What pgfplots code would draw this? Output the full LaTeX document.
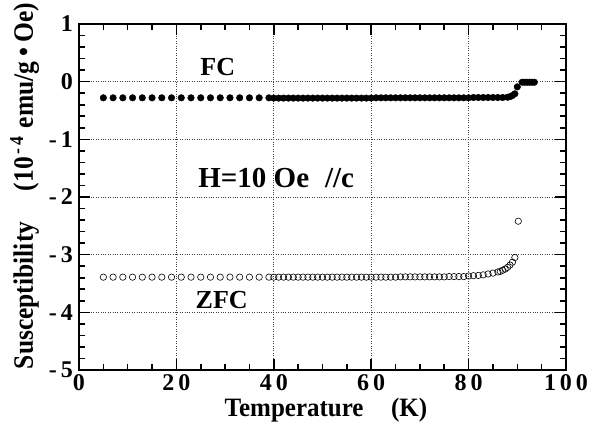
\documentclass[border=0pt]{standalone}
\usepackage{pgfplots}
\pgfplotsset{compat=1.18}
\usepackage{fontspec}
\setmainfont{Liberation Serif}
\begin{document}
\begin{tikzpicture}
\begin{axis}[
 name=ax,
 width=487pt, height=346pt, scale only axis,
 xmin=0,xmax=100,ymin=-5,ymax=1,
 xtick={0,20,...,100}, ytick={-5,-4,...,1},
 minor x tick num=3, minor y tick num=4,
 xticklabels={0,2\,0,4\,0,6\,0,8\,0,1\,0\,0},
 yticklabels={-\,5,-\,4,-\,3,-\,2,-\,1,0,1},
 tick style={line width=1.6pt, black},
 major tick length=11pt, minor tick length=6pt,
 axis line style={line width=2.2pt},
 grid=major, grid style={dotted, line width=0.7pt, black!75},
 ticklabel style={font=\bfseries\fontsize{24}{24}\selectfont},
 xticklabel style={anchor=base, yshift=-21pt, inner sep=0pt},
 yticklabel style={anchor=east, inner sep=0pt, xshift=-6pt},
 xlabel={\scalebox{1}[1.06]{Temperature\hspace{1.1em}(K)}},
 ylabel={\scalebox{1}[1.1]{Susceptibility\hspace{1.2em}(10\hspace{0.12em}\textsuperscript{-\,4}\hspace{0.3em}emu/g\hspace{0.2em}•\hspace{0.2em}Oe)}},
 xlabel style={font=\bfseries\fontsize{25}{25}\selectfont, inner sep=0pt, at={(axis description cs:0.507,-0.133)}, anchor=base},
 ylabel style={font=\bfseries\fontsize{25.5}{25.5}\selectfont, inner sep=0pt, at={(axis description cs:-0.0945,0.532)}, anchor=base},
]
\addplot[only marks, mark=*, mark size=3.3pt, black] coordinates {
(5,-0.28)(7,-0.28)(9,-0.28)(11,-0.28)(13,-0.28)(15,-0.28)(17,-0.28)(19,-0.28)(21,-0.28)
(23,-0.28)(25,-0.28)(27,-0.28)(29,-0.28)(31,-0.28)(33,-0.28)(35,-0.28)(37,-0.28)(39,-0.28)
(40,-0.285)(41,-0.285)(42,-0.285)(43,-0.285)(44,-0.285)(45,-0.285)(46,-0.285)(47,-0.285)
(48,-0.285)(49,-0.285)(50,-0.285)(51,-0.285)(52,-0.285)(53,-0.285)(54,-0.285)(55,-0.285)
(56,-0.285)(57,-0.285)(58,-0.285)(59,-0.285)(60,-0.285)(61,-0.28)(62,-0.28)(63,-0.28)
(64,-0.28)(65,-0.28)(66,-0.28)(67,-0.28)(68,-0.28)(69,-0.28)(70,-0.28)(71,-0.28)(72,-0.28)
(73,-0.28)(74,-0.28)(75,-0.28)(76,-0.28)(77,-0.28)(78,-0.28)(79,-0.28)(80,-0.28)
(81,-0.275)(82,-0.275)(83,-0.275)(84,-0.275)(85,-0.275)(86,-0.275)(87,-0.275)
(88,-0.27)(88.5,-0.26)(89,-0.24)(89.5,-0.21)(90,-0.09)
(91,-0.01)(91.5,-0.01)(92,-0.01)(92.5,-0.01)(93,-0.01)(93.5,-0.01)
};
\addplot[only marks, mark=o, mark size=3.2pt, black, mark options={line width=0.6pt}] coordinates {
(5,-3.39)(7,-3.39)(9,-3.39)(11,-3.39)(13,-3.39)(15,-3.39)(17,-3.39)(19,-3.39)(21,-3.39)
(23,-3.39)(25,-3.39)(27,-3.39)(29,-3.39)(31,-3.39)(33,-3.39)(35,-3.39)(37,-3.39)(39,-3.39)
(40,-3.39)(41,-3.39)(42,-3.39)(43,-3.39)(44,-3.39)(45,-3.39)(46,-3.39)(47,-3.39)(48,-3.39)
(49,-3.39)(50,-3.39)(51,-3.39)(52,-3.39)(53,-3.39)(54,-3.39)(55,-3.39)(56,-3.39)(57,-3.39)
(58,-3.39)(59,-3.39)(60,-3.39)(61,-3.39)(62,-3.39)(63,-3.39)(64,-3.39)(65,-3.39)
(66,-3.385)(67,-3.385)(68,-3.385)(69,-3.385)(70,-3.385)(71,-3.385)(72,-3.385)(73,-3.385)
(74,-3.385)(75,-3.385)(76,-3.38)(77,-3.38)(78,-3.38)(79,-3.38)(80,-3.37)(81,-3.365)
(82,-3.36)(83,-3.35)(84,-3.335)(85,-3.32)(86,-3.30)(86.5,-3.29)(87,-3.27)(87.5,-3.25)
(88,-3.22)(88.5,-3.18)(89,-3.13)(89.5,-3.05)(90.2,-2.42)
};
\node[font=\bfseries\fontsize{26}{26}\selectfont] at (axis cs:28.5,0.25) {FC};
\node[font=\bfseries\fontsize{26}{26}\selectfont] at (axis cs:29.3,-3.78) {ZFC};
\node[font=\bfseries\fontsize{29}{29}\selectfont] at (axis cs:40.5,-1.67) {H=10 Oe\hspace{0.55em}//c};
\end{axis}
\pgfresetboundingbox
\path ([shift={(-79pt,-52pt)}]ax.south west) rectangle ([shift={(24pt,24pt)}]ax.north east);
\end{tikzpicture}
\end{document}
